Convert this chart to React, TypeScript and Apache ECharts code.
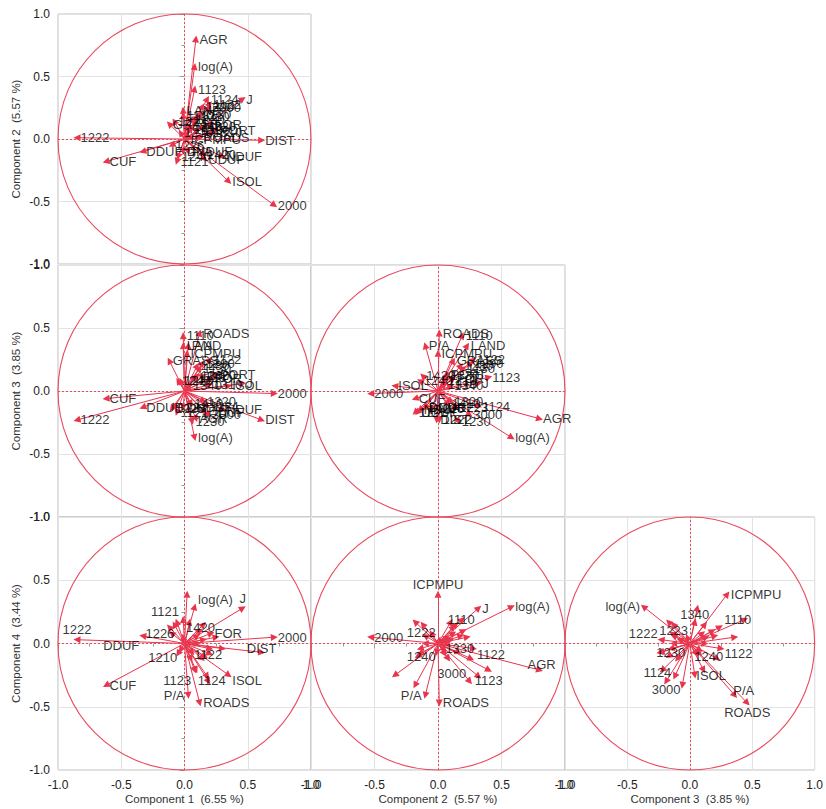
import React, { useEffect, useRef } from "react";
import * as echarts from "echarts";

// ---- data: loadings of each variable on components 1..4 ----
const variables = [
  "AGR", "log(A)", "2000", "DIST", "1222", "CUF", "DDUF", "ISOL", "J", "ROADS",
  "P/A", "ICPMPU", "1110", "1123", "1122", "3000", "1124", "1121", "1226", "1420",
  "FOR", "1210", "1240", "1330", "1340", "1223", "1230", "LAND", "GRASS", "DNDUF",
  "UDUF", "NDUF", "PORT", "1130", "1290", "1280", "1310", "1320", "1410",
];
const comp1 = [
  0.09, 0.08, 0.71, 0.61, -0.85, -0.62, -0.33, 0.35, 0.46, 0.12,
  0.03, 0.02, -0.01, 0.08, 0.2, 0.19, 0.18, -0.06, -0.1, 0.15,
  0.21, -0.03, -0.05, 0.1, 0.04, -0.08, 0.06, -0.01, -0.12, -0.01,
  0.16, 0.3, 0.25, 0.12, 0.14, 0.1, 0.2, 0.15, 0.05,
];
const comp2 = [
  0.8, 0.58, -0.53, -0.01, 0.01, -0.18, -0.1, -0.34, 0.32, 0.01,
  -0.1, 0.0, 0.19, 0.4, 0.28, 0.25, 0.32, -0.18, -0.05, -0.12,
  0.12, 0.05, -0.14, 0.07, 0.1, 0.14, 0.16, 0.23, 0.12, -0.1,
  -0.16, -0.14, 0.07, 0.2, 0.26, 0.18, 0.05, 0.1, 0.08,
];
const comp3 = [
  -0.22, -0.37, -0.02, -0.23, -0.23, -0.06, -0.13, 0.04, 0.06, 0.46,
  0.36, 0.3, 0.44, 0.11, 0.25, -0.19, -0.12, -0.17, -0.14, 0.12,
  0.1, 0.08, 0.08, 0.12, 0.04, -0.13, -0.24, 0.36, 0.24, -0.13,
  -0.17, -0.15, 0.13, 0.18, 0.22, 0.2, 0.05, -0.08, -0.1,
];
const comp4 = [
  -0.21, 0.29, 0.05, -0.07, 0.03, -0.33, 0.06, -0.25, 0.28, -0.47,
  -0.41, 0.39, 0.19, -0.21, -0.04, -0.3, -0.26, 0.17, 0.08, 0.15,
  0.08, -0.05, -0.08, 0.0, 0.17, 0.15, -0.07, 0.05, 0.13, 0.0,
  -0.1, -0.04, 0.05, 0.1, -0.12, 0.06, -0.08, 0.03, -0.12,
];
const componentNames = [
  "Component 1  (6.55 %)",
  "Component 2  (5.57 %)",
  "Component 3  (3.85 %)",
  "Component 4  (3.44 %)",
];

// labels shown in the bottom-row panels (others show every label)
const labels31 = ["1222", "DDUF", "1210", "1121", "1226", "1420", "log(A)", "J", "FOR", "2000", "DIST", "1122", "1123", "1124", "ISOL", "P/A", "ROADS", "CUF"];
const labels32 = ["ICPMPU", "J", "log(A)", "1110", "1222", "2000", "1330", "1240", "1122", "AGR", "3000", "1123", "P/A", "ROADS"];
const labels33 = ["ICPMPU", "log(A)", "1340", "1110", "1222", "1223", "1230", "1240", "1122", "1124", "ISOL", "3000", "P/A", "ROADS"];

// ---- layout / style ----
const colLeft = [58, 311, 565];
const colWidth = [253, 254, 252];
const rowTop = [14, 265, 517];
const rowHeight = [250, 252, 253];
const RED = "#e8344d";
const CIRCLE = "#ea4a5e";
const FONT = "'Liberation Sans', Arial, Helvetica, sans-serif";

type Place = [string, number, number];
const place31: Record<string, Place> = {
  "1222": ["top", 0, 0],
  DDUF: ["left", 0, 10],
  "1210": ["left", 0, 8],
  "1121": ["top", -12, 0],
  "1226": ["left", 6, 0],
  "1420": ["right", -21, 3],
  "log(A)": ["right", 0, -7],
  J: ["top", 0, 0],
  DIST: ["top", 0, 6],
  "1122": ["right", -19, 6],
  "1123": ["left", 0, 10],
  "1124": ["right", -13, 4],
  ISOL: ["right", 0, 5],
  "P/A": ["left", 0, 0],
};
const place32: Record<string, Place> = {
  ICPMPU: ["top", 0, 0],
  "1110": ["right", -18, 0],
  "1222": ["left", 0, -7],
  "1330": ["right", -5, 5],
  "1240": ["right", -17, 3],
  "1122": ["right", 0, 6],
  AGR: ["top", 2, 4],
  "3000": ["left", 0, -8],
  "1123": ["bottom", 0, 0],
  "P/A": ["left", 0, 0],
};
const place33: Record<string, Place> = {
  "log(A)": ["left", 0, 0],
  "1340": ["top", 0, 3],
  "1110": ["right", -24, 0],
  "1222": ["left", 0, -6],
  "1223": ["bottom", 0, -4],
  "1230": ["right", -7, 0],
  "1240": ["right", -9, 3],
  "1122": ["right", 0, 5],
  "1124": ["left", 0, -4],
  ISOL: ["right", -2, 0],
  "3000": ["bottom", 0, -2],
  "P/A": ["right", -5, -5],
  ROADS: ["bottom", 0, 0],
};

const panels = [
  { row: 0, col: 0, xc: 0, yc: 1, labels: null as string[] | null, place: {} as Record<string, Place> },
  { row: 1, col: 0, xc: 0, yc: 2, labels: null, place: {} },
  { row: 1, col: 1, xc: 1, yc: 2, labels: null, place: {} },
  { row: 2, col: 0, xc: 0, yc: 3, labels: labels31, place: place31 },
  { row: 2, col: 1, xc: 1, yc: 3, labels: labels32, place: place32 },
  { row: 2, col: 2, xc: 2, yc: 3, labels: labels33, place: place33 },
];

function buildOption() {
  const comps = [comp1, comp2, comp3, comp4];
  const fmt = (v: number) => v.toFixed(1);
  const grid: any[] = [];
  const xAxis: any[] = [];
  const yAxis: any[] = [];
  const series: any[] = [];

  panels.forEach((p, i) => {
    const bottom = p.row === 2;
    const left = p.col === 0;
    grid.push({
      left: colLeft[p.col],
      top: rowTop[p.row],
      width: colWidth[p.col],
      height: rowHeight[p.row],
      show: true,
      borderColor: "#bdbdbd",
      borderWidth: 1,
      backgroundColor: "rgba(0,0,0,0)",
    });
    const common = {
      type: "value",
      gridIndex: i,
      min: -1,
      max: 1,
      interval: 0.5,
      axisLine: { show: false },
      splitLine: { show: true, lineStyle: { color: "#e3e3e3", width: 1 } },
      minorSplitLine: { show: false },
      nameLocation: "middle",
      nameTextStyle: { color: "#333", fontSize: 11.5, fontFamily: FONT },
    };
    xAxis.push({
      ...common,
      position: "bottom",
      axisTick: { show: bottom, length: 5, lineStyle: { color: "#999" } },
      minorTick: { show: bottom, splitNumber: 2, length: 3, lineStyle: { color: "#999" } },
      axisLabel: { show: bottom, formatter: fmt, color: "#222", fontSize: 12, margin: 9, fontFamily: FONT },
      name: bottom ? componentNames[p.xc] : "",
      nameGap: 23,
    });
    yAxis.push({
      ...common,
      position: "left",
      axisTick: { show: left, length: 5, lineStyle: { color: "#999" } },
      minorTick: { show: left, splitNumber: 2, length: 3, lineStyle: { color: "#999" } },
      axisLabel: { show: left, formatter: fmt, color: "#222", fontSize: 12, margin: 8, fontFamily: FONT },
      name: left ? componentNames[p.yc] : "",
      nameGap: 36,
      nameRotate: 90,
    });

    const xs = comps[p.xc];
    const ys = comps[p.yc];

    // unit circle + dotted crosshair
    series.push({
      type: "custom",
      xAxisIndex: i,
      yAxisIndex: i,
      data: [[0, 0]],
      silent: true,
      clip: false,
      z: 2,
      renderItem: (_params: any, api: any) => {
        const c = api.coord([0, 0]);
        const s = api.size([1, 1]);
        return {
          type: "ellipse",
          shape: { cx: c[0], cy: c[1], rx: s[0], ry: s[1] },
          style: { fill: "none", stroke: CIRCLE, lineWidth: 1.1 },
        };
      },
      markLine: {
        silent: true,
        symbol: ["none", "none"],
        label: { show: false },
        lineStyle: { color: CIRCLE, type: [2, 2], width: 1 },
        data: [{ xAxis: 0 }, { yAxis: 0 }],
      },
    });

    // arrows
    series.push({
      type: "lines",
      coordinateSystem: "cartesian2d",
      xAxisIndex: i,
      yAxisIndex: i,
      silent: true,
      z: 3,
      symbol: ["none", "triangle"],
      symbolSize: 7,
      lineStyle: { color: RED, width: 1, opacity: 1, curveness: 0 },
      itemStyle: { color: RED },
      data: variables.map((n, k) => ({ name: n, coords: [[0, 0], [xs[k], ys[k]]] })),
    });

    // labels
    const shown = p.labels ?? variables;
    series.push({
      type: "scatter",
      xAxisIndex: i,
      yAxisIndex: i,
      silent: true,
      z: 4,
      symbolSize: 1,
      itemStyle: { color: "rgba(0,0,0,0)" },
      label: {
        show: true,
        formatter: "{b}",
        position: "right",
        distance: 3,
        color: "#000",
        fontSize: 13,
        fontFamily: FONT,
      },
      data: shown.map((n) => {
        const k = variables.indexOf(n);
        const pl = p.place[n];
        const item: any = { name: n, value: [xs[k], ys[k]] };
        if (pl) item.label = { position: pl[0], offset: [pl[1], pl[2]] };
        return item;
      }),
    });
  });

  return {
    animation: false,
    backgroundColor: "#ffffff",
    grid,
    xAxis,
    yAxis,
    series,
  };
}

export default function App() {
  const ref = useRef<HTMLDivElement>(null);
  useEffect(() => {
    if (!ref.current) return;
    const chart = echarts.init(ref.current, null, { renderer: "svg" });
    chart.setOption(buildOption() as any);
    return () => chart.dispose();
  }, []);
  return (
    <div
      ref={ref}
      style={{ position: "absolute", left: 0, top: 0, width: 826, height: 809, background: "#fff" }}
    />
  );
}
